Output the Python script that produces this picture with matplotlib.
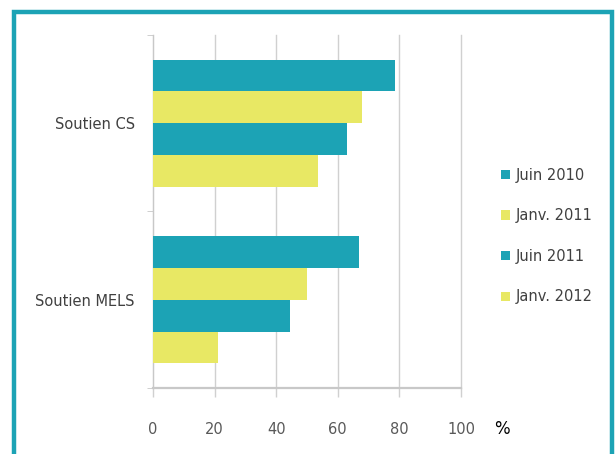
import matplotlib.pyplot as plt
from matplotlib.patches import Rectangle, Patch
from matplotlib import font_manager
import numpy as np

# data
categories = ['Soutien CS', 'Soutien MELS']
series = ['Juin 2010', 'Janv. 2011', 'Juin 2011', 'Janv. 2012']
values = {
    'Juin 2010': [78.5, 67],
    'Janv. 2011': [68, 50],
    'Juin 2011': [63, 44.5],
    'Janv. 2012': [53.5, 21],
}
xticks = [0, 20, 40, 60, 80, 100]

teal = '#1ca3b5'
yellow = '#e8e864'
colors = [teal, yellow, teal, yellow]

names = {f.name for f in font_manager.fontManager.ttflist}
narrow = 'Liberation Sans Narrow' if 'Liberation Sans Narrow' in names else 'DejaVu Sans'
plt.rcParams['font.family'] = [narrow, 'DejaVu Sans']

fig = plt.figure(figsize=(6.16, 4.54), dpi=100)
ax = fig.add_axes([153/616, 1 - 388/454, 308/616, 353/454])

# frame around the chart
fig.patches.append(Rectangle((14/616, -0.05), 598/616, 1 - 12/454 + 0.05,
                             transform=fig.transFigure, fill=False,
                             edgecolor=teal, linewidth=3.2, zorder=0))

y = np.arange(len(categories))
h = 0.18
for i, s in enumerate(series):
    ax.barh(y + (i - 1.5) * h, values[s], height=h, color=colors[i], zorder=3)

ax.set_xlim(0, 100)
ax.set_ylim(1.5, -0.5)
ax.set_xticks(xticks)
ax.set_xticklabels([str(t) for t in xticks])
ax.set_yticks(y)
ax.set_yticklabels(categories)
ax.set_yticks([-0.5, 0.5, 1.5], minor=True)

ax.grid(axis='x', color='#d0d0d0', linewidth=1, zorder=0)
for gl in ax.get_xgridlines():
    gl.set_clip_on(False)
for side in ['top', 'right']:
    ax.spines[side].set_visible(False)
ax.spines['left'].set_color('#c8c8c8')
ax.spines['bottom'].set_color('#c8c8c8')
ax.spines['bottom'].set_linewidth(1.6)

ax.tick_params(axis='x', length=6.5, color='#d0d0d0', width=1, pad=18,
               labelsize=10.5, labelcolor='#595959')
ax.tick_params(axis='y', which='major', length=0, pad=13,
               labelsize=10.5, labelcolor='#404040')
ax.tick_params(axis='y', which='minor', length=4, color='#c8c8c8')

fig.text(494/616, 1 - 429/454, '%', fontsize=12, color='black',
         family='DejaVu Sans', va='center')

handles = [Patch(facecolor=c, edgecolor='none') for c in colors]
fig.legend(handles, series, loc='center left', bbox_to_anchor=(488/616, 1 - 236/454),
           frameon=False, fontsize=10.5, labelcolor='#404040',
           handlelength=0.6, handleheight=0.6, handletextpad=0.4,
           labelspacing=1.75)

fig.savefig('out.png', dpi=100)
